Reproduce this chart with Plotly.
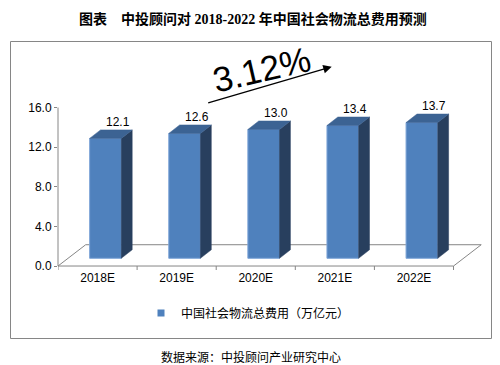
import plotly.graph_objects as go

# ---------------- data ----------------
categories = ["2018E", "2019E", "2020E", "2021E", "2022E"]
values = [12.1, 12.6, 13.0, 13.4, 13.7]
value_labels = ["12.1", "12.6", "13.0", "13.4", "13.7"]
y_ticks = [0, 4, 8, 12, 16]
y_tick_labels = ["0.0", "4.0", "8.0", "12.0", "16.0"]
series_name = "中国社会物流总费用（万亿元）"
growth_label = "3.12%"
title_text = "图表　中投顾问对 2018-2022 年中国社会物流总费用预测"
source_text = "数据来源：中投顾问产业研究中心"

# ---------------- layout geometry ----------------
# the page body has an 8px margin, so the figure is drawn 8px in from the corner
OFF = 8
W, H = 500 - OFF, 365 - OFF
ML, MR, MT, MB = 58 - OFF, 18, 107 - OFF, 96
PW = W - ML - MR
PH = H - MT - MB


def px_x(p):
    return (p - OFF - ML) / PW


def px_y(p):
    return (H - MB - (p - OFF)) / PH


X_RANGE = [-0.5, 4.86]
Y_RANGE = [-0.3, 16.05]

# 3D look (data units)
BAR_L, BAR_R = -0.1, 0.3
BASE = 0.78
DX, DY = 0.138, 0.86
FLOOR_DX, FLOOR_DY = 0.35, 2.15

FRONT = "#4F81BD"
FRONT_EDGE = "#7FA6D8"
TOP = "#3C6393"
SIDE = "#283F5E"
GRAY = "#868686"

idx = list(range(len(categories)))
centers = [i + (BAR_L + BAR_R) / 2 for i in idx]

fig = go.Figure()

# front faces
fig.add_trace(go.Bar(
    x=centers, y=values, base=BASE, width=BAR_R - BAR_L,
    marker=dict(color=FRONT, line=dict(color=FRONT_EDGE, width=1)),
    showlegend=False, hoverinfo="skip",
))

# side and top faces
for i, v in zip(idx, values):
    xl, xr = i + BAR_L, i + BAR_R
    top = BASE + v
    fig.add_trace(go.Scatter(
        x=[xr, xr + DX, xr + DX, xr, xr],
        y=[BASE, BASE + DY, top + DY, top, BASE],
        mode="lines", fill="toself", fillcolor=SIDE,
        line=dict(color=SIDE, width=0.5), showlegend=False, hoverinfo="skip",
    ))
    fig.add_trace(go.Scatter(
        x=[xl, xl + DX, xr + DX, xr, xl],
        y=[top, top + DY, top + DY, top, top],
        mode="lines", fill="toself", fillcolor=TOP,
        line=dict(color=TOP, width=0.5), showlegend=False, hoverinfo="skip",
    ))

# legend entry
fig.add_trace(go.Scatter(
    x=[None], y=[None], mode="markers", name=series_name,
    marker=dict(symbol="square", size=7, color=FRONT),
))

shapes = []
# floor
x0f, x1f = -0.5, len(categories) - 0.5
floor_path = (f"M{x0f},0 L{x1f},0 L{x1f + FLOOR_DX},{FLOOR_DY} "
              f"L{x0f + FLOOR_DX},{FLOOR_DY} Z")
shapes.append(dict(type="path", path=floor_path, xref="x", yref="y",
                   line=dict(color=GRAY, width=1), layer="below"))
# y axis line
shapes.append(dict(type="line", xref="paper", yref="y", x0=0, x1=0,
                   y0=y_ticks[0], y1=y_ticks[-1],
                   line=dict(color=GRAY, width=1)))
# category boundary ticks
for b in range(len(categories) + 1):
    xb = b - 0.5
    shapes.append(dict(type="line", xref="x", yref="paper", x0=xb, x1=xb,
                       y0=px_y(266), y1=px_y(270),
                       line=dict(color=GRAY, width=1)))
# outer border
shapes.append(dict(type="rect", xref="paper", yref="paper",
                   x0=px_x(10.5), x1=px_x(491.5), y0=px_y(338.5), y1=px_y(41.5),
                   line=dict(color=GRAY, width=1), fillcolor="rgba(0,0,0,0)"))

annotations = []
for c, v, lab in zip(centers, values, value_labels):
    annotations.append(dict(
        x=c + DX + 0.02, y=BASE + v + DY, xref="x", yref="y", text=lab,
        showarrow=False, yanchor="bottom", xanchor="center", yshift=-1,
        font=dict(family="Liberation Sans, Arial", size=12, color="#000"),
    ))

# growth text and arrow
annotations.append(dict(
    x=px_x(261), y=px_y(69), xref="paper", yref="paper", text=growth_label,
    showarrow=False, textangle=-13, xanchor="center", yanchor="middle",
    font=dict(family="Liberation Sans, Arial", size=35, color="#000"),
))
annotations.append(dict(
    x=px_x(331.7), y=px_y(66.7), xref="paper", yref="paper", text="",
    showarrow=True, ax=-125, ay=36.6, arrowhead=2, arrowsize=1.3,
    arrowwidth=1.3, arrowcolor="#000", standoff=0,
))

# title
annotations.append(dict(
    x=px_x(253), y=px_y(8.5), xref="paper", yref="paper",
    text="<b>" + title_text + "</b>", showarrow=False,
    xanchor="center", yanchor="top",
    font=dict(family="Liberation Serif, Noto Sans CJK SC", size=14, color="#000"),
))
# source
annotations.append(dict(
    x=px_x(251), y=px_y(356), xref="paper", yref="paper",
    text=source_text, showarrow=False, xanchor="center", yanchor="middle",
    font=dict(family="Noto Sans CJK SC", size=12, color="#000"),
))

fig.update_layout(
    width=W, height=H,
    margin=dict(l=ML, r=MR, t=MT, b=MB, pad=0),
    paper_bgcolor="white", plot_bgcolor="white",
    shapes=shapes, annotations=annotations,
    showlegend=True,
    legend=dict(x=px_x(141), y=px_y(313), xanchor="left", yanchor="middle",
                orientation="h", bgcolor="rgba(0,0,0,0)",
                font=dict(family="Noto Sans CJK SC", size=12, color="#000")),
    xaxis=dict(range=X_RANGE, tickmode="array", tickvals=idx, ticktext=categories,
               ticks="", showline=False, showgrid=False, zeroline=False,
               tickfont=dict(family="Liberation Sans, Arial", size=12, color="#000"),
               fixedrange=True),
    yaxis=dict(range=Y_RANGE, tickmode="array", tickvals=y_ticks, ticktext=y_tick_labels,
               ticks="outside", ticklen=3, tickcolor=GRAY, showline=False,
               showgrid=False, zeroline=False,
               tickfont=dict(family="Liberation Sans, Arial", size=12, color="#000"),
               fixedrange=True),
)

fig.write_html("out.html")
